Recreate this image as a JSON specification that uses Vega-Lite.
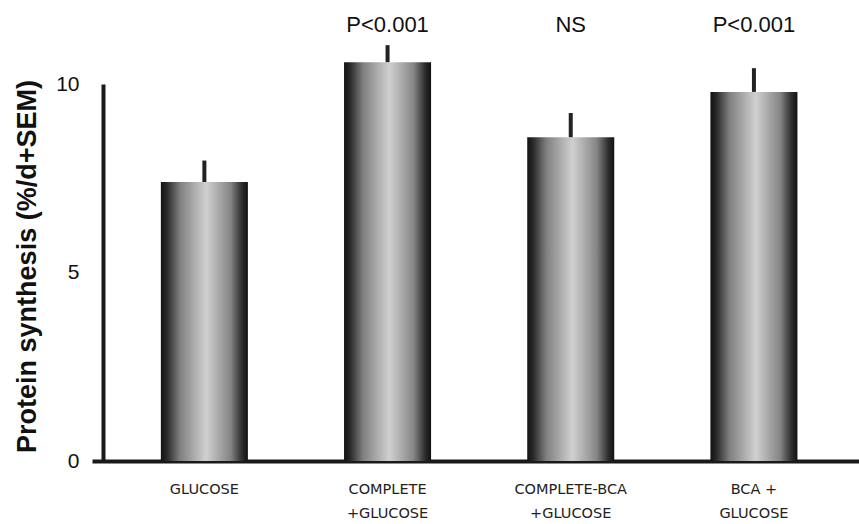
{
  "$schema": "https://vega.github.io/schema/vega-lite/v6.json",
  "autosize": {"type": "none"},
  "padding": {"left": 92, "top": 84, "right": 0, "bottom": 63},
  "width": 767,
  "height": 377,
  "background": "white",
  "config": {"view": {"stroke": null}, "font": "Liberation Sans"},
  "data": {
    "values": [
      {"group": "GLUCOSE", "value": 7.40, "err": 7.97, "note": ""},
      {"group": "COMPLETE|+GLUCOSE", "value": 10.58, "err": 11.03, "note": "P<0.001"},
      {"group": "COMPLETE-BCA|+GLUCOSE", "value": 8.59, "err": 9.23, "note": "NS"},
      {"group": "BCA +|GLUCOSE", "value": 9.79, "err": 10.42, "note": "P<0.001"}
    ]
  },
  "encoding": {
    "x": {
      "field": "group", "type": "nominal", "sort": null,
      "scale": {"paddingInner": 0.525, "paddingOuter": 0.356, "align": 0.528},
      "axis": {
        "title": null, "ticks": false, "labelAngle": 0,
        "labelExpr": "split(datum.value, '|')",
        "labelFont": "DejaVu Sans", "labelFontSize": 14.5, "labelColor": "#222",
        "labelPadding": 21, "labelLineHeight": 24,
        "domainColor": "#1a1a1a", "domainWidth": 4
      }
    }
  },
  "layer": [
    {
      "mark": {"type": "bar", "color": {"gradient": "linear", "x1": 0, "y1": 0, "x2": 1, "y2": 0, "stops": [
        {"offset": 0, "color": "#111111"},
        {"offset": 0.07, "color": "#2a2a2a"},
        {"offset": 0.22, "color": "#808080"},
        {"offset": 0.52, "color": "#d0d0d0"},
        {"offset": 0.8, "color": "#858585"},
        {"offset": 0.93, "color": "#2e2e2e"},
        {"offset": 1, "color": "#111111"}
      ]}},
      "encoding": {
        "y": {
          "field": "value", "type": "quantitative",
          "scale": {"domain": [0, 10], "nice": false},
          "axis": {
            "values": [0, 5, 10], "ticks": false, "grid": false, "offset": -11,
            "labelFont": "Liberation Sans", "labelFontSize": 21, "labelColor": "#111", "labelPadding": 24,
            "domainColor": "#1a1a1a", "domainWidth": 4,
            "title": "Protein synthesis (%/d+SEM)", "titleFont": "Liberation Sans", "titleFontSize": 27,
            "titleFontWeight": "bold", "titleColor": "#111", "titleX": -76, "titleY": 182,
            "titleAngle": -90, "titleAlign": "center", "titleBaseline": "middle"
          }
        }
      }
    },
    {
      "mark": {"type": "rule", "strokeWidth": 4, "color": "#222"},
      "encoding": {
        "y": {"field": "value", "type": "quantitative"},
        "y2": {"field": "err"}
      }
    },
    {
      "mark": {"type": "text", "font": "Liberation Sans", "fontSize": 22, "color": "#111", "baseline": "middle"},
      "encoding": {
        "y": {"datum": 11.56},
        "text": {"field": "note"}
      }
    }
  ]
}
